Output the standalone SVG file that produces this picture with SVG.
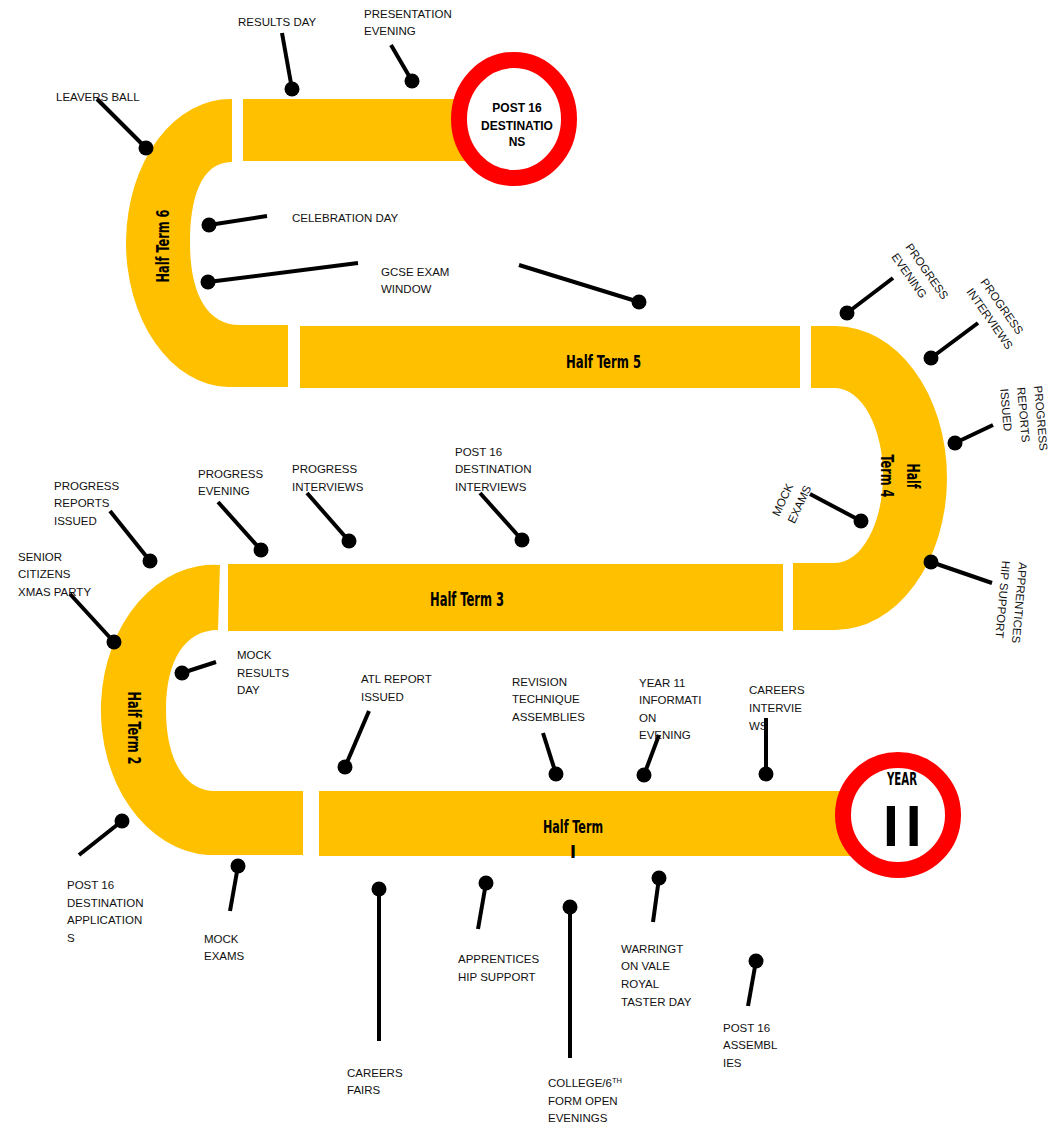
<svg xmlns="http://www.w3.org/2000/svg" width="1051" height="1124" viewBox="0 0 1051 1124">
<style>
.band{fill:#FFC000}
.ring{fill:#FFFFFF;stroke:#FF0000;stroke-width:16}
.lbl{font-family:'Liberation Sans',Arial,sans-serif;font-size:11.5px;fill:#111111}
.ctr{font-family:'Liberation Sans',Arial,sans-serif;font-size:12px;font-weight:bold;fill:#000000;text-anchor:middle}
.ht{font-family:'Liberation Sans Narrow','DejaVu Sans Condensed','DejaVu Sans',sans-serif;font-stretch:condensed;font-weight:bold;fill:#000000}
.pins line{stroke:#000000;stroke-width:4}
.pins circle{fill:#000000}
</style>
<rect width="1051" height="1124" fill="#FFFFFF"/>

<g id="half-term-6">
  <rect class="band" x="243" y="99" width="262" height="62"/>
  <path class="band" d="M232,99 A104,144 0 0 0 228,387 L288,387 L288,325 L240,325 C205,325 190,290 190,243 C190,200 200,162 232,162 Z"/>
  <text class="ht" font-size="18" text-anchor="middle" textLength="73" lengthAdjust="spacingAndGlyphs" transform="translate(169,246) rotate(-90)">Half Term 6</text>
</g>

<g id="half-term-5">
  <rect class="band" x="300" y="326" width="500" height="62"/>
  <text class="ht" font-size="18" x="603.5" y="368" text-anchor="middle" textLength="75" lengthAdjust="spacingAndGlyphs">Half Term 5</text>
</g>

<g id="half-term-4">
  <path class="band" d="M811,326 L835,326 A112,152 0 0 1 835,630 L793,630 L793,563 L835,563 A48,87.5 0 0 0 835,388 L811,388 Z"/>
  <g transform="translate(907,476) rotate(90)">
    <text class="ht" font-size="18" x="0" y="0" text-anchor="middle" textLength="25" lengthAdjust="spacingAndGlyphs">Half</text>
    <text class="ht" font-size="18" x="0" y="26" text-anchor="middle" textLength="43" lengthAdjust="spacingAndGlyphs">Term 4</text>
  </g>
</g>

<g id="half-term-3">
  <rect class="band" x="228" y="564" width="555" height="67"/>
  <text class="ht" font-size="19" x="467" y="606" text-anchor="middle" textLength="74" lengthAdjust="spacingAndGlyphs">Half Term 3</text>
</g>

<g id="half-term-2">
  <path class="band" d="M220,565 A113,145 0 0 0 208,855 L303,855 L303,791 L215,791 C185,791 166,760 166,710 C166,660 185,630 218,630 Z"/>
  <text class="ht" font-size="18" text-anchor="middle" textLength="73" lengthAdjust="spacingAndGlyphs" transform="translate(128,728) rotate(90)">Half Term 2</text>
</g>

<g id="half-term-1">
  <rect class="band" x="319" y="791" width="570" height="65"/>
  <text class="ht" font-size="18" x="573" y="833" text-anchor="middle" textLength="60" lengthAdjust="spacingAndGlyphs">Half Term</text>
  <text class="ht" font-size="18" x="573" y="858" text-anchor="middle">I</text>
</g>

<g id="post16-destinations">
  <ellipse class="ring" cx="514" cy="119" rx="55" ry="59"/>
  <text class="ctr" x="517" y="112">POST 16</text>
  <text class="ctr" x="517" y="130">DESTINATIO</text>
  <text class="ctr" x="517" y="146">NS</text>
</g>

<g id="year-11">
  <circle class="ring" cx="898" cy="815" r="55"/>
  <text class="ht" font-size="18" x="902" y="785" text-anchor="middle" textLength="30" lengthAdjust="spacingAndGlyphs">YEAR</text>
  <text font-family="'Liberation Sans',Arial,sans-serif" font-weight="bold" font-size="57" x="883" y="846" letter-spacing="7" fill="#000000">II</text>
</g>

<g id="connectors" class="pins">
  <line x1="282" y1="33" x2="292" y2="89"/><circle cx="292" cy="89" r="7.5"/>
  <line x1="391" y1="45" x2="412" y2="81"/><circle cx="412" cy="81" r="7.5"/>
  <line x1="97" y1="99" x2="146" y2="148"/><circle cx="146" cy="148" r="7.5"/>
  <line x1="267" y1="216" x2="209" y2="225"/><circle cx="209" cy="225" r="7.5"/>
  <line x1="358" y1="263" x2="208" y2="282"/><circle cx="208" cy="282" r="7.5"/>
  <line x1="519" y1="265" x2="639" y2="302"/><circle cx="639" cy="302" r="7.5"/>
  <line x1="893" y1="278" x2="847" y2="313"/><circle cx="847" cy="313" r="7.5"/>
  <line x1="978" y1="323" x2="931" y2="358"/><circle cx="931" cy="358" r="7.5"/>
  <line x1="993" y1="425" x2="955" y2="443"/><circle cx="955" cy="443" r="7.5"/>
  <line x1="992" y1="583" x2="931" y2="562"/><circle cx="931" cy="562" r="7.5"/>
  <line x1="810" y1="494" x2="861" y2="521"/><circle cx="861" cy="521" r="7.5"/>
  <line x1="110" y1="511" x2="150" y2="561"/><circle cx="150" cy="561" r="7.5"/>
  <line x1="70" y1="594" x2="114" y2="642"/><circle cx="114" cy="642" r="7.5"/>
  <line x1="218" y1="502" x2="261" y2="550"/><circle cx="261" cy="550" r="7.5"/>
  <line x1="307" y1="493" x2="349" y2="541"/><circle cx="349" cy="541" r="7.5"/>
  <line x1="480" y1="493" x2="522" y2="540"/><circle cx="522" cy="540" r="7.5"/>
  <line x1="216" y1="662" x2="182" y2="673"/><circle cx="182" cy="673" r="7.5"/>
  <line x1="369" y1="711" x2="345" y2="767"/><circle cx="345" cy="767" r="7.5"/>
  <line x1="543" y1="733" x2="556" y2="774"/><circle cx="556" cy="774" r="7.5"/>
  <line x1="659" y1="735" x2="644" y2="775"/><circle cx="644" cy="775" r="7.5"/>
  <line x1="766" y1="718" x2="766" y2="774"/><circle cx="766" cy="774" r="7.5"/>
  <line x1="79" y1="855" x2="122" y2="821"/><circle cx="122" cy="821" r="7.5"/>
  <line x1="230" y1="911" x2="238" y2="866"/><circle cx="238" cy="866" r="7.5"/>
  <line x1="379" y1="1041" x2="379" y2="889"/><circle cx="379" cy="889" r="7.5"/>
  <line x1="478" y1="929" x2="486" y2="883"/><circle cx="486" cy="883" r="7.5"/>
  <line x1="570" y1="1058" x2="570" y2="907"/><circle cx="570" cy="907" r="7.5"/>
  <line x1="653" y1="922" x2="659" y2="878"/><circle cx="659" cy="878" r="7.5"/>
  <line x1="748" y1="1006" x2="756" y2="961"/><circle cx="756" cy="961" r="7.5"/>
</g>

<g id="labels">
  <g id="lbl-results-day"><text class="lbl" x="238" y="26">RESULTS DAY</text></g>
  <g id="lbl-presentation-evening"><text class="lbl" x="364" y="18">PRESENTATION</text><text class="lbl" x="364" y="35">EVENING</text></g>
  <g id="lbl-leavers-ball"><text class="lbl" x="56" y="101">LEAVERS BALL</text></g>
  <g id="lbl-celebration-day"><text class="lbl" x="292" y="222">CELEBRATION DAY</text></g>
  <g id="lbl-gcse-exam-window"><text class="lbl" x="381" y="276">GCSE EXAM</text><text class="lbl" x="381" y="293">WINDOW</text></g>
  <g id="lbl-progress-evening-2" transform="translate(905,247) rotate(55)"><text class="lbl" x="0" y="0">PROGRESS</text><text class="lbl" x="0" y="17">EVENING</text></g>
  <g id="lbl-progress-interviews-2" transform="translate(980,282) rotate(55)"><text class="lbl" x="0" y="0">PROGRESS</text><text class="lbl" x="0" y="17">INTERVIEWS</text></g>
  <g id="lbl-progress-reports-2" transform="translate(1034,386) rotate(85)"><text class="lbl" x="0" y="0">PROGRESS</text><text class="lbl" x="0" y="17">REPORTS</text><text class="lbl" x="0" y="34">ISSUED</text></g>
  <g id="lbl-apprenticeship-2" transform="translate(1019,562) rotate(95)"><text class="lbl" x="0" y="0">APPRENTICES</text><text class="lbl" x="0" y="17">HIP SUPPORT</text></g>
  <g id="lbl-mock-exams-2" transform="translate(779,517) rotate(-65)"><text class="lbl" x="0" y="0">MOCK</text><text class="lbl" x="0" y="17">EXAMS</text></g>
  <g id="lbl-progress-reports-1"><text class="lbl" x="54" y="490">PROGRESS</text><text class="lbl" x="54" y="507">REPORTS</text><text class="lbl" x="54" y="525">ISSUED</text></g>
  <g id="lbl-senior-citizens"><text class="lbl" x="18" y="561">SENIOR</text><text class="lbl" x="18" y="578">CITIZENS</text><text class="lbl" x="18" y="596">XMAS PARTY</text></g>
  <g id="lbl-progress-evening-1"><text class="lbl" x="198" y="478">PROGRESS</text><text class="lbl" x="198" y="495">EVENING</text></g>
  <g id="lbl-progress-interviews-1"><text class="lbl" x="292" y="473">PROGRESS</text><text class="lbl" x="292" y="491">INTERVIEWS</text></g>
  <g id="lbl-post16-interviews"><text class="lbl" x="455" y="456">POST 16</text><text class="lbl" x="455" y="473">DESTINATION</text><text class="lbl" x="455" y="491">INTERVIEWS</text></g>
  <g id="lbl-mock-results-day"><text class="lbl" x="237" y="659">MOCK</text><text class="lbl" x="237" y="677">RESULTS</text><text class="lbl" x="237" y="694">DAY</text></g>
  <g id="lbl-atl-report"><text class="lbl" x="361" y="683">ATL REPORT</text><text class="lbl" x="361" y="701">ISSUED</text></g>
  <g id="lbl-revision-technique"><text class="lbl" x="512" y="686">REVISION</text><text class="lbl" x="512" y="703">TECHNIQUE</text><text class="lbl" x="512" y="721">ASSEMBLIES</text></g>
  <g id="lbl-year11-info"><text class="lbl" x="639" y="687">YEAR 11</text><text class="lbl" x="639" y="704">INFORMATI</text><text class="lbl" x="639" y="722">ON</text><text class="lbl" x="639" y="739">EVENING</text></g>
  <g id="lbl-careers-interviews"><text class="lbl" x="749" y="694">CAREERS</text><text class="lbl" x="749" y="712">INTERVIE</text><text class="lbl" x="749" y="730">WS</text></g>
  <g id="lbl-post16-applications"><text class="lbl" x="67" y="889">POST 16</text><text class="lbl" x="67" y="907">DESTINATION</text><text class="lbl" x="67" y="924">APPLICATION</text><text class="lbl" x="67" y="942">S</text></g>
  <g id="lbl-mock-exams-1"><text class="lbl" x="204" y="943">MOCK</text><text class="lbl" x="204" y="960">EXAMS</text></g>
  <g id="lbl-careers-fairs"><text class="lbl" x="347" y="1077">CAREERS</text><text class="lbl" x="347" y="1094">FAIRS</text></g>
  <g id="lbl-apprenticeship-1"><text class="lbl" x="458" y="963">APPRENTICES</text><text class="lbl" x="458" y="981">HIP SUPPORT</text></g>
  <g id="lbl-college-open"><text class="lbl" x="548" y="1087">COLLEGE/6<tspan font-size="7.5px" dy="-4">TH</tspan></text><text class="lbl" x="548" y="1105">FORM OPEN</text><text class="lbl" x="548" y="1122">EVENINGS</text></g>
  <g id="lbl-warrington"><text class="lbl" x="621" y="953">WARRINGT</text><text class="lbl" x="621" y="970">ON VALE</text><text class="lbl" x="621" y="988">ROYAL</text><text class="lbl" x="621" y="1006">TASTER DAY</text></g>
  <g id="lbl-post16-assemblies"><text class="lbl" x="723" y="1032">POST 16</text><text class="lbl" x="723" y="1049">ASSEMBL</text><text class="lbl" x="723" y="1067">IES</text></g>
</g>
</svg>
